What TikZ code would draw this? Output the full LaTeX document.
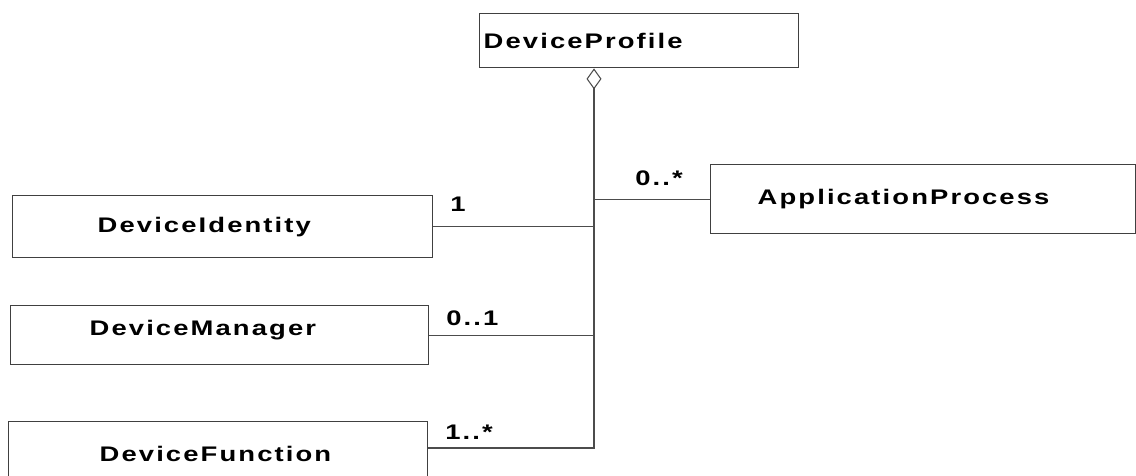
\documentclass[tikz,border=0pt]{standalone}
\usepackage{fontspec}
\newfontfamily\umlfont{Liberation Sans Bold}[FakeStretch=1.3,LetterSpace=10]
\usepackage{tikz}
\usetikzlibrary{arrows.meta}

\begin{document}
\begin{tikzpicture}[x=0.02cm,y=-0.02cm,
  classbox/.style={draw=black!75, line width=0.8pt, anchor=north west, inner sep=0pt, align=left,
    font=\umlfont\fontsize{12}{14}\selectfont},
  assoc/.style={draw=black!70, line width=0.6pt},
  mult/.style={anchor=base west, inner sep=0pt, font=\umlfont\fontsize{12}{14}\selectfont}]
\useasboundingbox (0,0) rectangle (1136,476);
\clip (0,0) rectangle (1136,476);

% classes
\node[classbox, minimum height=1.08cm, text width=6.22cm, inner xsep=0.08cm] (profile) at (479,13) {DeviceProfile};
\node[classbox, minimum height=1.38cm, text width=6.62cm, inner xsep=0.94cm] (app) at (710,164) {ApplicationProcess};
\node[classbox, minimum height=1.24cm, text width=5.0cm, inner xsep=1.7cm] (identity) at (12,195) {DeviceIdentity};
\node[classbox, minimum height=1.18cm, text width=5.2cm, inner xsep=1.58cm, text depth=0.3cm] (manager) at (10,305) {DeviceManager};
\node[classbox, minimum height=1.28cm, text width=4.74cm, inner xsep=1.82cm] (function) at (8,421) {DeviceFunction};

% aggregation
\coordinate (bus) at (594,448);
\draw[assoc, {Diamond[open, length=0.42cm, width=0.3cm]}-] (profile.south -| bus) -- (bus) -- (bus -| function.east);
\draw[assoc] (identity.east) -- (identity.east -| bus);
\draw[assoc] (manager.east) -- (manager.east -| bus);
\draw[assoc] (app.west) -- (app.west -| bus);

% multiplicities
\node[mult] (m-app) at (635,186) {0..*};
\node[mult] (m-identity) at (450,212) {1};
\node[mult] (m-manager) at (446,325) {0..1};
\node[mult] (m-function) at (445,439) {1..*};
\end{tikzpicture}
\end{document}
